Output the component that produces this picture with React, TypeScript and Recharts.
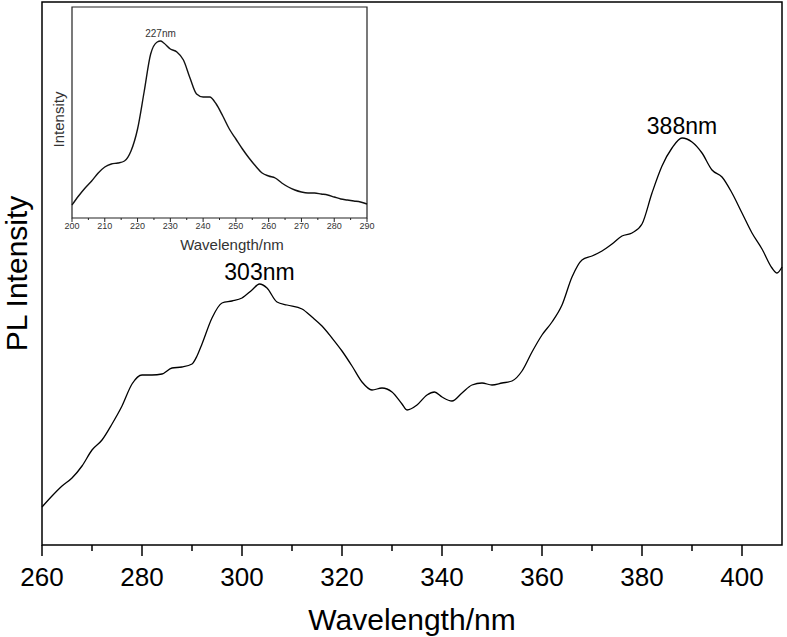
import { LineChart, Line, XAxis, YAxis, ReferenceArea, ReferenceDot } from "recharts";

// main PL spectrum (arbitrary intensity units)
const mainWavelength = [
  260, 262, 264, 266, 268, 270, 272, 274, 276, 278, 280, 282, 284, 286, 288, 290, 291, 292, 294, 296,
  298, 300, 302, 303.5, 305, 307, 309, 312, 314, 316, 318, 320, 322, 324, 326, 328, 330, 332, 333, 335,
  337, 338.5, 340, 342, 344, 346, 348, 350, 352, 354, 356, 358, 360, 362, 364, 366, 368, 370, 372, 374,
  376, 378, 380, 382, 384, 386, 388, 390, 392, 394, 396, 398, 400, 402, 404, 406, 407, 408,
];
const mainIntensity = [
  38, 49, 59, 67, 79, 95, 105, 121, 139, 161, 170, 170, 171, 177, 178, 181, 189, 201, 227, 242,
  244, 247, 255, 261, 257, 243, 240, 236, 228, 219, 207, 194, 179, 163, 155, 157, 153, 141, 135, 140,
  150, 153, 148, 144, 152, 160, 162, 160, 162, 164, 174, 193, 210, 223, 240, 268, 285, 289, 294, 301,
  309, 312, 321, 352, 379, 397, 407, 403, 392, 375, 368, 352, 332, 312, 296, 277, 272, 278,
];
const mainTicks = [260, 270, 280, 290, 300, 310, 320, 330, 340, 350, 360, 370, 380, 390, 400];
const mainPeaks = [
  { wl: 303.5, label: "303nm" },
  { wl: 388, label: "388nm" },
];

// inset spectrum
const insetWavelength = [
  200, 202, 204, 206, 208, 210, 212, 214, 216, 218, 220, 222, 224, 226, 227, 228, 230, 232, 234, 236,
  238, 240, 242, 244, 246, 248, 250, 252, 254, 256, 258, 260, 262, 264, 266, 268, 270, 272, 274, 276,
  278, 280, 282, 284, 286, 288, 290,
];
const insetIntensity = [
  13, 22, 30, 37, 45, 51, 54, 55, 57, 67, 89, 126, 164, 176, 177, 175, 169, 166, 158, 140,
  124, 121, 121, 114, 102, 89, 79, 69, 60, 52, 45, 42, 40, 35, 31, 28, 26, 25, 25, 24,
  23, 21, 19, 18, 17, 16, 14,
];
const insetTicks = [
  200, 205, 210, 215, 220, 225, 230, 235, 240, 245, 250, 255, 260, 265, 270, 275, 280, 285, 290,
];
const insetPeaks = [{ wl: 227, label: "227nm" }];

const mainData = mainWavelength.map((wl, i) => ({ wl, value: mainIntensity[i] }));
const insetData = insetWavelength.map((wl, i) => ({ wl, value: insetIntensity[i] }));

const FONT = "'Liberation Sans', Arial, Helvetica, sans-serif";

const MainTick = (props: any) => {
  const { x, y, payload } = props;
  const major = payload.value % 20 === 0;
  return (
    <g>
      <line x1={x} x2={x} y1={y} y2={y + (major ? 11 : 6)} stroke="#000" strokeWidth={1.5} />
      {major && (
        <text x={x} y={y + 23} dy="0.71em" textAnchor="middle" fontSize={26} fontFamily={FONT} fill="#000">
          {payload.value}
        </text>
      )}
    </g>
  );
};

const InsetTick = (props: any) => {
  const { x, y, payload } = props;
  const major = payload.value % 10 === 0;
  return (
    <g>
      <line x1={x} x2={x} y1={y} y2={y + (major ? 4 : 2)} stroke="#222" strokeWidth={1} />
      {major && (
        <text x={x} y={y + 5} dy="0.71em" textAnchor="middle" fontSize={9} fontFamily={FONT} fill="#333">
          {payload.value}
        </text>
      )}
    </g>
  );
};

const MainXTitle = (props: any) => {
  const { viewBox } = props;
  return (
    <text x={viewBox.x + viewBox.width / 2} y={630} textAnchor="middle" fontSize={30} fontFamily={FONT} fill="#000">
      Wavelength/nm
    </text>
  );
};

const MainYTitle = (props: any) => {
  const { viewBox } = props;
  const cx = 27;
  const cy = viewBox.y + viewBox.height / 2;
  return (
    <text x={cx} y={cy} transform={`rotate(-90 ${cx} ${cy})`} textAnchor="middle" fontSize={30} fontFamily={FONT} fill="#000">
      PL Intensity
    </text>
  );
};

const InsetXTitle = () => (
  <text x={192} y={250} textAnchor="middle" fontSize={15} fontFamily={FONT} fill="#333">
    Wavelength/nm
  </text>
);

const InsetYTitle = (props: any) => {
  const { viewBox } = props;
  const cx = 24;
  const cy = viewBox.y + viewBox.height / 2 + 7;
  return (
    <text x={cx} y={cy} transform={`rotate(-90 ${cx} ${cy})`} textAnchor="middle" fontSize={15} fontFamily={FONT} fill="#333">
      Intensity
    </text>
  );
};

const peakValue = (data: { wl: number; value: number }[], wl: number) =>
  data.find((d) => d.wl === wl)?.value ?? 0;

export default function App() {
  return (
    <div style={{ position: "absolute", left: 0, top: 0, width: 787, height: 637, background: "#fff" }}>
      <div style={{ position: "absolute", left: 0, top: 0 }}>
        <LineChart width={787} height={637} data={mainData} margin={{ top: 2, right: 5, bottom: 0, left: 0 }}>
          <XAxis
            dataKey="wl"
            type="number"
            domain={[260, 408]}
            ticks={mainTicks}
            interval={0}
            height={92}
            tickSize={0}
            tickMargin={0}
            tickLine={false}
            axisLine={false}
            tick={<MainTick />}
            label={<MainXTitle />}
          />
          <YAxis
            type="number"
            domain={[0, 543]}
            width={42}
            tick={false}
            tickLine={false}
            axisLine={false}
            label={<MainYTitle />}
          />
          <ReferenceArea x1={260} x2={408} y1={0} y2={543} fill="none" stroke="#000" strokeWidth={1.5} />
          <Line
            type="monotone"
            dataKey="value"
            stroke="#000"
            strokeWidth={1.3}
            dot={false}
            isAnimationActive={false}
          />
          {mainPeaks.map((p) => (
            <ReferenceDot
              key={p.label}
              x={p.wl}
              y={peakValue(mainData, p.wl)}
              r={0}
              stroke="none"
              fill="none"
              label={{ value: p.label, position: "top", offset: 4, fontSize: 23, fill: "#000", fontFamily: FONT }}
            />
          ))}
        </LineChart>
      </div>
      <div style={{ position: "absolute", left: 40, top: 0 }}>
        <LineChart width={340} height={260} data={insetData} margin={{ top: 7, right: 13, bottom: 0, left: 0 }}>
          <XAxis
            dataKey="wl"
            type="number"
            domain={[200, 290]}
            ticks={insetTicks}
            interval={0}
            height={42}
            tickSize={0}
            tickMargin={0}
            tickLine={false}
            axisLine={false}
            tick={<InsetTick />}
            label={<InsetXTitle />}
          />
          <YAxis
            type="number"
            domain={[0, 211]}
            width={32}
            tick={false}
            tickLine={false}
            axisLine={false}
            label={<InsetYTitle />}
          />
          <ReferenceArea x1={200} x2={290} y1={0} y2={211} fill="none" stroke="#222" strokeWidth={1.2} />
          <Line
            type="monotone"
            dataKey="value"
            stroke="#111"
            strokeWidth={1.4}
            dot={false}
            isAnimationActive={false}
          />
          {insetPeaks.map((p) => (
            <ReferenceDot
              key={p.label}
              x={p.wl}
              y={peakValue(insetData, p.wl)}
              r={0}
              stroke="none"
              fill="none"
              label={{ value: p.label, position: "top", offset: 4, fontSize: 10, fill: "#333", fontFamily: FONT }}
            />
          ))}
        </LineChart>
      </div>
    </div>
  );
}
